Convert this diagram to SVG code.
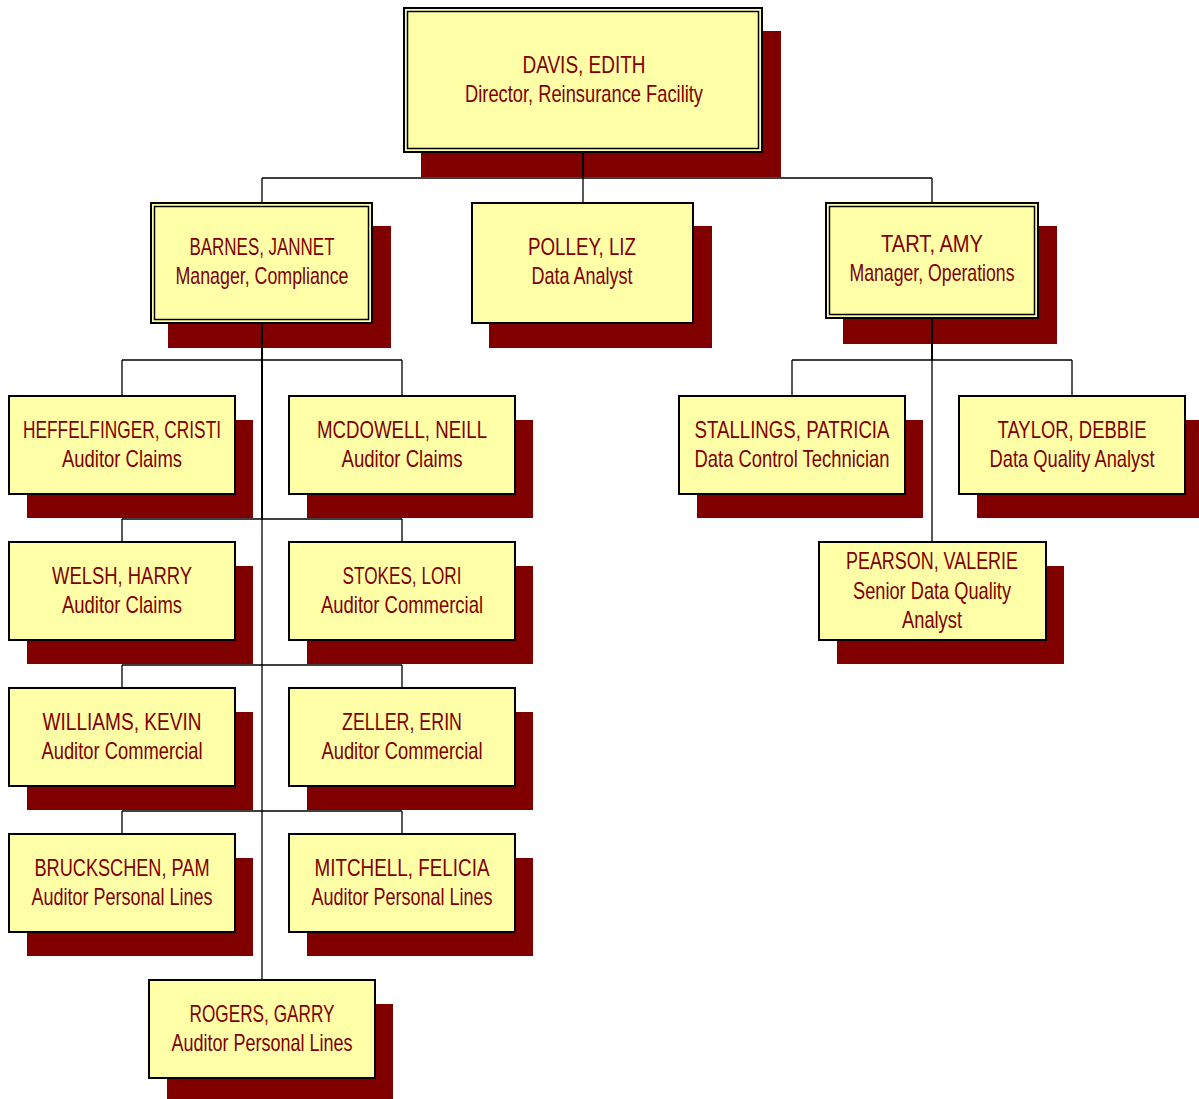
<svg xmlns="http://www.w3.org/2000/svg" width="1199" height="1099" viewBox="0 0 1199 1099">
<style>
.sh{fill:#800000}
.bx{fill:#FFFFA8;stroke:#000;stroke-width:2}
.in{fill:none;stroke:#000;stroke-width:1.5}
.t{font-family:"Liberation Sans",Arial,sans-serif;font-size:24px;fill:#800000;text-anchor:middle}
.c{stroke:#000;stroke-width:1.3;fill:none}
.ct{stroke:#000;stroke-width:2;fill:none}
</style>
<rect width="1199" height="1099" fill="#fff"/>
<g id="davis">
<rect class="sh" x="421" y="31" width="360" height="146"/>
<rect class="bx" x="404" y="8" width="358" height="144"/>
<rect class="in" x="407.5" y="11.5" width="351" height="137"/>
<text class="t" x="584" y="73" textLength="123" lengthAdjust="spacingAndGlyphs">DAVIS, EDITH</text>
<text class="t" x="584" y="102" textLength="238" lengthAdjust="spacingAndGlyphs">Director, Reinsurance Facility</text>
</g>
<g id="barnes">
<rect class="sh" x="168" y="226" width="223" height="122"/>
<rect class="bx" x="151" y="203" width="221" height="120"/>
<rect class="in" x="154.5" y="206.5" width="214" height="113"/>
<text class="t" x="262" y="255" textLength="145" lengthAdjust="spacingAndGlyphs">BARNES, JANNET</text>
<text class="t" x="262" y="284" textLength="173" lengthAdjust="spacingAndGlyphs">Manager, Compliance</text>
</g>
<g id="polley">
<rect class="sh" x="489" y="226" width="223" height="122"/>
<rect class="bx" x="472" y="203" width="221" height="120"/>
<text class="t" x="582" y="255" textLength="108" lengthAdjust="spacingAndGlyphs">POLLEY, LIZ</text>
<text class="t" x="582" y="284" textLength="101" lengthAdjust="spacingAndGlyphs">Data Analyst</text>
</g>
<g id="tart">
<rect class="sh" x="843" y="226" width="214" height="118"/>
<rect class="bx" x="826" y="203" width="212" height="115"/>
<rect class="in" x="829.5" y="206.5" width="205" height="108"/>
<text class="t" x="932" y="252" textLength="102" lengthAdjust="spacingAndGlyphs">TART, AMY</text>
<text class="t" x="932" y="281" textLength="165" lengthAdjust="spacingAndGlyphs">Manager, Operations</text>
</g>
<g id="heffelfinger">
<rect class="sh" x="27" y="420" width="226" height="98"/>
<rect class="bx" x="9" y="396" width="226" height="98"/>
<text class="t" x="122" y="438" textLength="198" lengthAdjust="spacingAndGlyphs">HEFFELFINGER, CRISTI</text>
<text class="t" x="122" y="467" textLength="120" lengthAdjust="spacingAndGlyphs">Auditor Claims</text>
</g>
<g id="mcdowell">
<rect class="sh" x="307" y="420" width="226" height="98"/>
<rect class="bx" x="289" y="396" width="226" height="98"/>
<text class="t" x="402" y="438" textLength="170" lengthAdjust="spacingAndGlyphs">MCDOWELL, NEILL</text>
<text class="t" x="402" y="467" textLength="121" lengthAdjust="spacingAndGlyphs">Auditor Claims</text>
</g>
<g id="welsh">
<rect class="sh" x="27" y="566" width="226" height="98"/>
<rect class="bx" x="9" y="542" width="226" height="98"/>
<text class="t" x="122" y="584" textLength="140" lengthAdjust="spacingAndGlyphs">WELSH, HARRY</text>
<text class="t" x="122" y="613" textLength="120" lengthAdjust="spacingAndGlyphs">Auditor Claims</text>
</g>
<g id="stokes">
<rect class="sh" x="307" y="566" width="226" height="98"/>
<rect class="bx" x="289" y="542" width="226" height="98"/>
<text class="t" x="402" y="584" textLength="119" lengthAdjust="spacingAndGlyphs">STOKES, LORI</text>
<text class="t" x="402" y="613" textLength="162" lengthAdjust="spacingAndGlyphs">Auditor Commercial</text>
</g>
<g id="williams">
<rect class="sh" x="27" y="712" width="226" height="98"/>
<rect class="bx" x="9" y="688" width="226" height="98"/>
<text class="t" x="122" y="730" textLength="159" lengthAdjust="spacingAndGlyphs">WILLIAMS, KEVIN</text>
<text class="t" x="122" y="759" textLength="161" lengthAdjust="spacingAndGlyphs">Auditor Commercial</text>
</g>
<g id="zeller">
<rect class="sh" x="307" y="712" width="226" height="98"/>
<rect class="bx" x="289" y="688" width="226" height="98"/>
<text class="t" x="402" y="730" textLength="120" lengthAdjust="spacingAndGlyphs">ZELLER, ERIN</text>
<text class="t" x="402" y="759" textLength="161" lengthAdjust="spacingAndGlyphs">Auditor Commercial</text>
</g>
<g id="bruckschen">
<rect class="sh" x="27" y="858" width="226" height="98"/>
<rect class="bx" x="9" y="834" width="226" height="98"/>
<text class="t" x="122" y="876" textLength="175" lengthAdjust="spacingAndGlyphs">BRUCKSCHEN, PAM</text>
<text class="t" x="122" y="905" textLength="181" lengthAdjust="spacingAndGlyphs">Auditor Personal Lines</text>
</g>
<g id="mitchell">
<rect class="sh" x="307" y="858" width="226" height="98"/>
<rect class="bx" x="289" y="834" width="226" height="98"/>
<text class="t" x="402" y="876" textLength="175" lengthAdjust="spacingAndGlyphs">MITCHELL, FELICIA</text>
<text class="t" x="402" y="905" textLength="181" lengthAdjust="spacingAndGlyphs">Auditor Personal Lines</text>
</g>
<g id="rogers">
<rect class="sh" x="167" y="1004" width="226" height="95"/>
<rect class="bx" x="149" y="980" width="226" height="98"/>
<text class="t" x="262" y="1022" textLength="145" lengthAdjust="spacingAndGlyphs">ROGERS, GARRY</text>
<text class="t" x="262" y="1051" textLength="181" lengthAdjust="spacingAndGlyphs">Auditor Personal Lines</text>
</g>
<g id="stallings">
<rect class="sh" x="697" y="420" width="226" height="98"/>
<rect class="bx" x="679" y="396" width="226" height="98"/>
<text class="t" x="792" y="438" textLength="195" lengthAdjust="spacingAndGlyphs">STALLINGS, PATRICIA</text>
<text class="t" x="792" y="467" textLength="195" lengthAdjust="spacingAndGlyphs">Data Control Technician</text>
</g>
<g id="taylor">
<rect class="sh" x="977" y="420" width="222" height="98"/>
<rect class="bx" x="959" y="396" width="226" height="98"/>
<text class="t" x="1072" y="438" textLength="149" lengthAdjust="spacingAndGlyphs">TAYLOR, DEBBIE</text>
<text class="t" x="1072" y="467" textLength="165" lengthAdjust="spacingAndGlyphs">Data Quality Analyst</text>
</g>
<g id="pearson">
<rect class="sh" x="837" y="566" width="227" height="98"/>
<rect class="bx" x="819" y="542" width="227" height="98"/>
<text class="t" x="932" y="569" textLength="172" lengthAdjust="spacingAndGlyphs">PEARSON, VALERIE</text>
<text class="t" x="932" y="598.5" textLength="158" lengthAdjust="spacingAndGlyphs">Senior Data Quality</text>
<text class="t" x="932" y="628" textLength="60" lengthAdjust="spacingAndGlyphs">Analyst</text>
</g>
<g id="connectors">
<path class="ct" d="M583 153V178"/>
<path class="c" d="M583 178V202M262 178H932M262 178V202M932 178V202"/>
<path class="ct" d="M262 324V519"/>
<path class="c" d="M262 519V980"/>
<path class="c" d="M122 360H402M122 360V396M402 360V396"/>
<path class="c" d="M122 519H402M122 519V542M402 519V542"/>
<path class="c" d="M122 665H402M122 665V688M402 665V688"/>
<path class="c" d="M122 811H402M122 811V834M402 811V834"/>
<path class="ct" d="M932 319V360"/>
<path class="c" d="M932 360V542M792 360H1072M792 360V396M1072 360V396"/>
</g>
</svg>
